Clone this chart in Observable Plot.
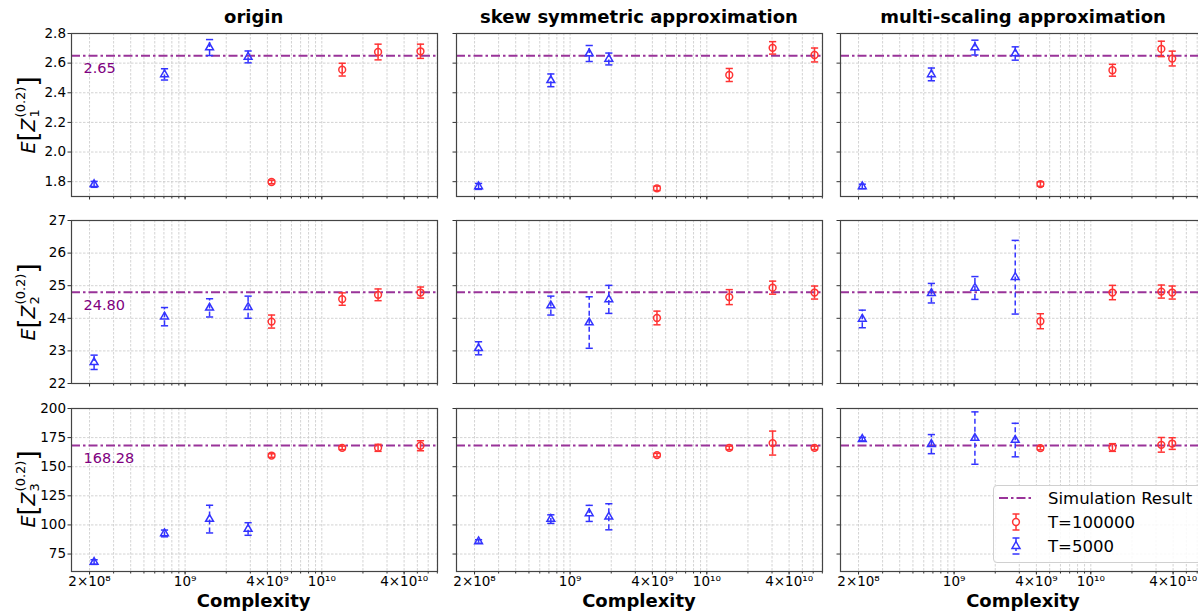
<!DOCTYPE html>
<html>
<head>
<meta charset="utf-8">
<script src="https://cdn.jsdelivr.net/npm/d3@7"></script>
<script src="https://cdn.jsdelivr.net/npm/@observablehq/plot@0.6"></script>
<style>
  html, body { margin: 0; padding: 0; background: #fff; }
  #root { position: relative; width: 1198px; height: 613px; overflow: hidden; background: #fff; font-family: "DejaVu Sans", sans-serif; }
  .panel { position: absolute; }
  .title { position: absolute; font-weight: bold; font-size: 18px; transform: translateX(-50%); white-space: nowrap; }
  .xlab { position: absolute; font-weight: bold; font-size: 18px; transform: translateX(-50%); white-space: nowrap; }
  .ylab { position: absolute; font-size: 19px; white-space: nowrap; transform: translate(-50%, -50%) rotate(-90deg); display: flex; align-items: center; }
  .ylab i { font-style: oblique; }
  .br { font-size: 26px; line-height: 1; }
  .ss { display: inline-flex; flex-direction: column; font-size: 13px; line-height: 1.05; margin-left: 1px; }
  .legend { position: absolute; border: 1px solid #d0d0d0; border-radius: 4px; background: rgba(255,255,255,0.85); font-size: 16.5px; }
  .lrow { position: absolute; left: 0; display: flex; align-items: center; height: 22px; }
</style>
</head>
<body>
<div id="root"></div>
<script>
// ---------------- data ----------------
const methods = ["origin", "skew symmetric approximation", "multi-scaling approximation"];
const seriesNames = ["Simulation Result", "T=100000", "T=5000"];
const simValues = [2.65, 24.80, 168.28];
const simLabels = ["2.65", "24.80", "168.28"];

// complexities (x) per method
const xOrigin5000 = [2.16e8, 7.07e8, 1.51e9, 2.89e9];
const xOrigin100000 = [4.29e9, 1.41e10, 2.58e10, 5.27e10];
const xSkew5000 = [2.14e8, 7.23e8, 1.38e9, 1.92e9];
const xSkew100000 = [4.32e9, 1.46e10, 3.03e10, 6.14e10];
const xMulti5000 = [2.13e8, 6.82e8, 1.42e9, 2.80e9];
const xMulti100000 = [4.28e9, 1.44e10, 3.28e10, 3.94e10];

// E[Z1]
const z1Origin5000 = [1.782, 2.524, 2.705, 2.642];
const z1Origin5000Err = [0.02, 0.038, 0.054, 0.04];
const z1Origin100000 = [1.798, 2.556, 2.675, 2.68];
const z1Origin100000Err = [0.012, 0.043, 0.053, 0.048];
const z1Skew5000 = [1.768, 2.484, 2.665, 2.628];
const z1Skew5000Err = [0.02, 0.043, 0.054, 0.04];
const z1Skew100000 = [1.755, 2.52, 2.703, 2.655];
const z1Skew100000Err = [0.015, 0.044, 0.042, 0.047];
const z1Multi5000 = [1.768, 2.524, 2.705, 2.665];
const z1Multi5000Err = [0.015, 0.043, 0.05, 0.045];
const z1Multi100000 = [1.784, 2.552, 2.696, 2.631];
const z1Multi100000Err = [0.015, 0.04, 0.052, 0.05];

// E[Z2]
const z2Origin5000 = [22.65, 24.05, 24.32, 24.34];
const z2Origin5000Err = [0.22, 0.28, 0.28, 0.34];
const z2Origin100000 = [23.9, 24.59, 24.72, 24.79];
const z2Origin100000Err = [0.2, 0.19, 0.18, 0.17];
const z2Skew5000 = [23.08, 24.39, 23.87, 24.58];
const z2Skew5000Err = [0.2, 0.29, 0.79, 0.43];
const z2Skew100000 = [24.01, 24.65, 24.94, 24.79];
const z2Skew100000Err = [0.21, 0.23, 0.2, 0.2];
const z2Multi5000 = [23.98, 24.77, 24.93, 25.26];
const z2Multi5000Err = [0.27, 0.30, 0.35, 1.13];
const z2Multi100000 = [23.91, 24.79, 24.82, 24.79];
const z2Multi100000Err = [0.23, 0.22, 0.2, 0.2];

// E[Z3]
const z3Origin5000 = [68.1, 92.7, 105, 96.5];
const z3Origin5000Err = [2, 2.9, 11.9, 5.4];
const z3Origin100000 = [159.6, 166.2, 166.2, 168];
const z3Origin100000Err = [1.5, 1.5, 3, 4.3];
const z3Skew5000 = [85.8, 105, 109.9, 107];
const z3Skew5000Err = [1.5, 3.7, 6.9, 11.2];
const z3Skew100000 = [160, 166.2, 170.3, 166.2];
const z3Skew100000Err = [1.5, 1.5, 10.3, 1.5];
const z3Multi5000 = [173.7, 169.4, 174.6, 172.9];
const z3Multi5000Err = [1.5, 8.2, 22.5, 14.4];
const z3Multi100000 = [166, 166.5, 168.8, 169.9];
const z3Multi100000Err = [1.5, 3.3, 6.3, 5];

// axes
const xDomain = [1.476e8, 7.02e10];
const xTickValues = [2e8, 1e9, 4e9, 1e10, 4e10];
const xTickLabels = ["2×10⁸", "10⁹", "4×10⁹", "10¹⁰", "4×10¹⁰"];
const xMinorTicks = [2e8, 3e8, 4e8, 5e8, 6e8, 7e8, 8e8, 9e8,
  1e9, 2e9, 3e9, 4e9, 5e9, 6e9, 7e9, 8e9, 9e9,
  1e10, 2e10, 3e10, 4e10, 5e10, 6e10, 7e10];
const yDomainZ1 = [1.70, 2.80];
const yDomainZ2 = [22, 27];
const yDomainZ3 = [60, 200];
const yTicksZ1 = [1.8, 2.0, 2.2, 2.4, 2.6, 2.8];
const yTickLabelsZ1 = ["1.8", "2.0", "2.2", "2.4", "2.6", "2.8"];
const yTicksZ2 = [22, 23, 24, 25, 26, 27];
const yTickLabelsZ2 = ["22", "23", "24", "25", "26", "27"];
const yTicksZ3 = [75, 100, 125, 150, 175, 200];
const yTickLabelsZ3 = ["75", "100", "125", "150", "175", "200"];

// ---------------- layout ----------------
const colLefts = [70.7, 456, 840];
const rowTops = [33, 220.3, 407.7];
const FW = 366, FH = 163;
const ML = 50, MR = 12, MT = 6, MB = 34;
const RED = "#ff3333", BLUE = "#3333ff", SIMC = "#993399", SIMTXT = "#800080";
const GRID = "#c8c8c8";

const xByMethod = [[xOrigin5000, xOrigin100000], [xSkew5000, xSkew100000], [xMulti5000, xMulti100000]];
const yByRow = [
  [[z1Origin5000, z1Origin5000Err, z1Origin100000, z1Origin100000Err],
   [z1Skew5000, z1Skew5000Err, z1Skew100000, z1Skew100000Err],
   [z1Multi5000, z1Multi5000Err, z1Multi100000, z1Multi100000Err]],
  [[z2Origin5000, z2Origin5000Err, z2Origin100000, z2Origin100000Err],
   [z2Skew5000, z2Skew5000Err, z2Skew100000, z2Skew100000Err],
   [z2Multi5000, z2Multi5000Err, z2Multi100000, z2Multi100000Err]],
  [[z3Origin5000, z3Origin5000Err, z3Origin100000, z3Origin100000Err],
   [z3Skew5000, z3Skew5000Err, z3Skew100000, z3Skew100000Err],
   [z3Multi5000, z3Multi5000Err, z3Multi100000, z3Multi100000Err]]
];
const yDomains = [yDomainZ1, yDomainZ2, yDomainZ3];
const yTicks = [yTicksZ1, yTicksZ2, yTicksZ3];
const yTickLabels = [yTickLabelsZ1, yTickLabelsZ2, yTickLabelsZ3];

const capSymbol = {
  draw(context, size) {
    const r = Math.sqrt(size / Math.PI);
    context.moveTo(-r, 0);
    context.lineTo(r, 0);
  }
};

const root = document.getElementById("root");

function series(xs, ys, es) {
  return xs.map((x, i) => ({x, y: ys[i], lo: ys[i] - es[i], hi: ys[i] + es[i]}));
}

function errMarks(data, color, dash, symbol, r) {
  return [
    Plot.ruleX(data, {x: "x", y1: "lo", y2: "hi", stroke: color, strokeWidth: 1.5, strokeDasharray: dash}),
    Plot.dot(data, {x: "x", y: "lo", symbol: capSymbol, r: 3.6, stroke: color, fill: "none", strokeWidth: 1.5}),
    Plot.dot(data, {x: "x", y: "hi", symbol: capSymbol, r: 3.6, stroke: color, fill: "none", strokeWidth: 1.5}),
    Plot.dot(data, {x: "x", y: "y", symbol, r, stroke: color, fill: "none", strokeWidth: 1.5})
  ];
}

const xTickData = xTickValues.map((v, i) => ({v, t: xTickLabels[i]}));

for (let row = 0; row < 3; row++) {
  for (let col = 0; col < 3; col++) {
    const [x5, x100] = xByMethod[col];
    const [y5, e5, y100, e100] = yByRow[row][col];
    const d5 = series(x5, y5, e5);
    const d100 = series(x100, y100, e100);
    const lastRow = row === 2;
    const marks = [
      Plot.ruleX(xMinorTicks, {stroke: GRID, strokeWidth: 0.8, strokeDasharray: "2.5,1.5"}),
      Plot.ruleY(yTicks[row], {stroke: GRID, strokeWidth: 0.8, strokeDasharray: "2.5,1.5"}),
      Plot.axisX(xMinorTicks, {tickSize: 2.5, tickFormat: () => "", label: null, stroke: "#333"}),
      Plot.axisX(xTickValues, {tickSize: 3.5, tickFormat: () => "", label: null, stroke: "#333"}),
      Plot.axisY(yTicks[row], {tickSize: 3.5, tickPadding: 2, label: null, stroke: "#333",
        tickFormat: col === 0 ? (d => yTickLabels[row][yTicks[row].indexOf(d)]) : (() => "")}),
      Plot.ruleY([simValues[row]], {stroke: SIMC, strokeWidth: 2, strokeDasharray: "9,3,2.5,3"}),
      ...errMarks(d100, RED, null, "circle", 3.4),
      ...errMarks(d5, BLUE, "5,3", "triangle", 2.9),
      Plot.frame({stroke: "#444", strokeWidth: 1.2})
    ];
    if (lastRow) {
      marks.push(Plot.text(xTickData, {
        x: "v", text: "t", frameAnchor: "bottom", lineAnchor: "top", dy: 5, fontSize: 13.5, fill: "#000"
      }));
    }
    if (col === 0) {
      marks.push(Plot.text([{v: simValues[row], t: simLabels[row]}], {
        y: "v", text: "t", frameAnchor: "left", dx: 12, dy: 13, textAnchor: "start",
        fill: SIMTXT, fontSize: 14.5
      }));
    }
    const chart = Plot.plot({
      width: FW + ML + MR, height: FH + MT + MB,
      marginLeft: ML, marginRight: MR, marginTop: MT, marginBottom: MB,
      x: {type: "log", domain: xDomain},
      y: {domain: yDomains[row]},
      style: {fontFamily: "DejaVu Sans", fontSize: "13.5px", color: "#000", background: "transparent", overflow: "visible", maxWidth: "none"},
      marks
    });
    chart.classList.add("panel");
    chart.style.left = (colLefts[col] - ML) + "px";
    chart.style.top = (rowTops[row] - MT) + "px";
    root.appendChild(chart);
  }
}

// titles
methods.forEach((m, col) => {
  const t = document.createElement("div");
  t.className = "title";
  t.textContent = m;
  t.style.left = (colLefts[col] + FW / 2) + "px";
  t.style.top = "6px";
  root.appendChild(t);
  const xl = document.createElement("div");
  xl.className = "xlab";
  xl.textContent = "Complexity";
  xl.style.left = (colLefts[col] + FW / 2) + "px";
  xl.style.top = "590px";
  root.appendChild(xl);
});

// y labels
["1", "2", "3"].forEach((k, row) => {
  const d = document.createElement("div");
  d.className = "ylab";
  d.style.left = "28px";
  d.style.top = (rowTops[row] + FH / 2) + "px";
  d.innerHTML = `<i>E</i><span class="br">[</span><i>Z</i><span class="ss"><span>(0.2)</span><span>${k}</span></span><span class="br">]</span>`;
  root.appendChild(d);
});

// legend
const lg = document.createElement("div");
lg.className = "legend";
lg.style.left = "993px"; lg.style.top = "485px"; lg.style.width = "215px"; lg.style.height = "76px";
const handles = [
  `<svg width="50" height="22"><line x1="5" x2="40" y1="11" y2="11" stroke="${SIMC}" stroke-width="2" stroke-dasharray="9,3,2.5,3"/></svg>`,
  `<svg width="50" height="22"><line x1="22" x2="22" y1="3" y2="19" stroke="${RED}" stroke-width="1.5"/><line x1="18.5" x2="25.5" y1="3" y2="3" stroke="${RED}" stroke-width="1.5"/><line x1="18.5" x2="25.5" y1="19" y2="19" stroke="${RED}" stroke-width="1.5"/><circle cx="22" cy="11" r="3.4" fill="white" stroke="${RED}" stroke-width="1.5"/></svg>`,
  `<svg width="50" height="22"><line x1="22" x2="22" y1="3" y2="19" stroke="${BLUE}" stroke-width="1.5" stroke-dasharray="5,3"/><line x1="18.5" x2="25.5" y1="3" y2="3" stroke="${BLUE}" stroke-width="1.5"/><line x1="18.5" x2="25.5" y1="19" y2="19" stroke="${BLUE}" stroke-width="1.5"/><path d="M22,6.5 L26,13.5 L18,13.5 Z" fill="white" stroke="${BLUE}" stroke-width="1.5"/></svg>`
];
seriesNames.forEach((n, i) => {
  const r = document.createElement("div");
  r.className = "lrow";
  r.style.top = (1 + i * 24) + "px";
  r.innerHTML = handles[i] + `<span style="margin-left:4px">${n}</span>`;
  lg.appendChild(r);
});
root.appendChild(lg);
</script>
</body>
</html>
